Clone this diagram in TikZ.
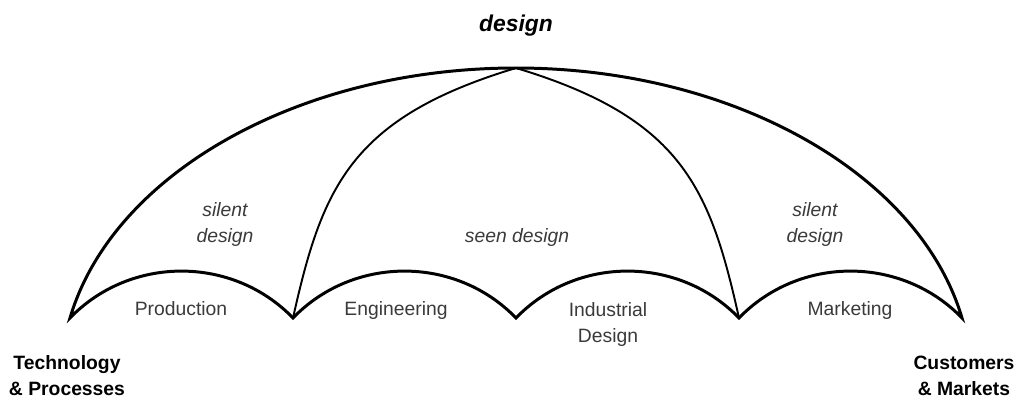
\documentclass[tikz,border=0pt]{standalone}
\usepackage{fontspec}
\setmainfont{Liberation Sans}
\usepackage{tikz}
\definecolor{labelGray}{HTML}{3A3A3A}

\begin{document}
\begin{tikzpicture}[x=0.02cm, y=0.02cm,
    canopy/.style={line width=1.7pt, line join=miter},
    rib/.style={line width=1.1pt},
    lbl/.style={labelGray, font=\fontsize{11}{14.8}\selectfont, align=center, inner sep=0pt, anchor=base},
    note/.style={lbl, font=\fontsize{11}{14.8}\selectfont\itshape},
    side/.style={font=\fontsize{11}{14.8}\selectfont\bfseries, align=center, inner sep=0pt, anchor=base}]
    \useasboundingbox (0, 0) rectangle (1020, 400);

    \coordinate (tip) at (516, 332);
    \coordinate (p0) at (70, 82);
    \coordinate (p1) at (293, 82);
    \coordinate (p2) at (516, 82);
    \coordinate (p3) at (739, 82);
    \coordinate (p4) at (962, 82);

    \draw[canopy] (p0) .. controls (113, 227) and (300, 332) .. (tip)
        .. controls (732, 332) and (919, 227) .. (p4)
        to[bend right=46] (p3) to[bend right=46] (p2)
        to[bend right=46] (p1) to[bend right=46] (p0) -- cycle;
    \draw[rib] (p1) .. controls (322, 212) and (350, 282) .. (tip);
    \draw[rib] (p3) .. controls (710, 212) and (682, 282) .. (tip);

    \node[font=\fontsize{13}{15}\selectfont\bfseries\itshape, anchor=base] (title) at (516, 369) {design};
    \node[note] (silentL) at (225, 158) {silent\\design};
    \node[note] (seen) at (517, 158) {seen design};
    \node[note] (silentR) at (815, 158) {silent\\design};
    \node[lbl] (prod) at (181, 85) {Production};
    \node[lbl] (eng) at (396, 85) {Engineering};
    \node[lbl] (indus) at (608, 58) {Industrial\\Design};
    \node[lbl] (mkt) at (850, 85) {Marketing};
    \node[side] (tech) at (67, 5) {Technology\\\& Processes};
    \node[side] (cust) at (964, 5) {Customers\\\& Markets};
\end{tikzpicture}
\end{document}
